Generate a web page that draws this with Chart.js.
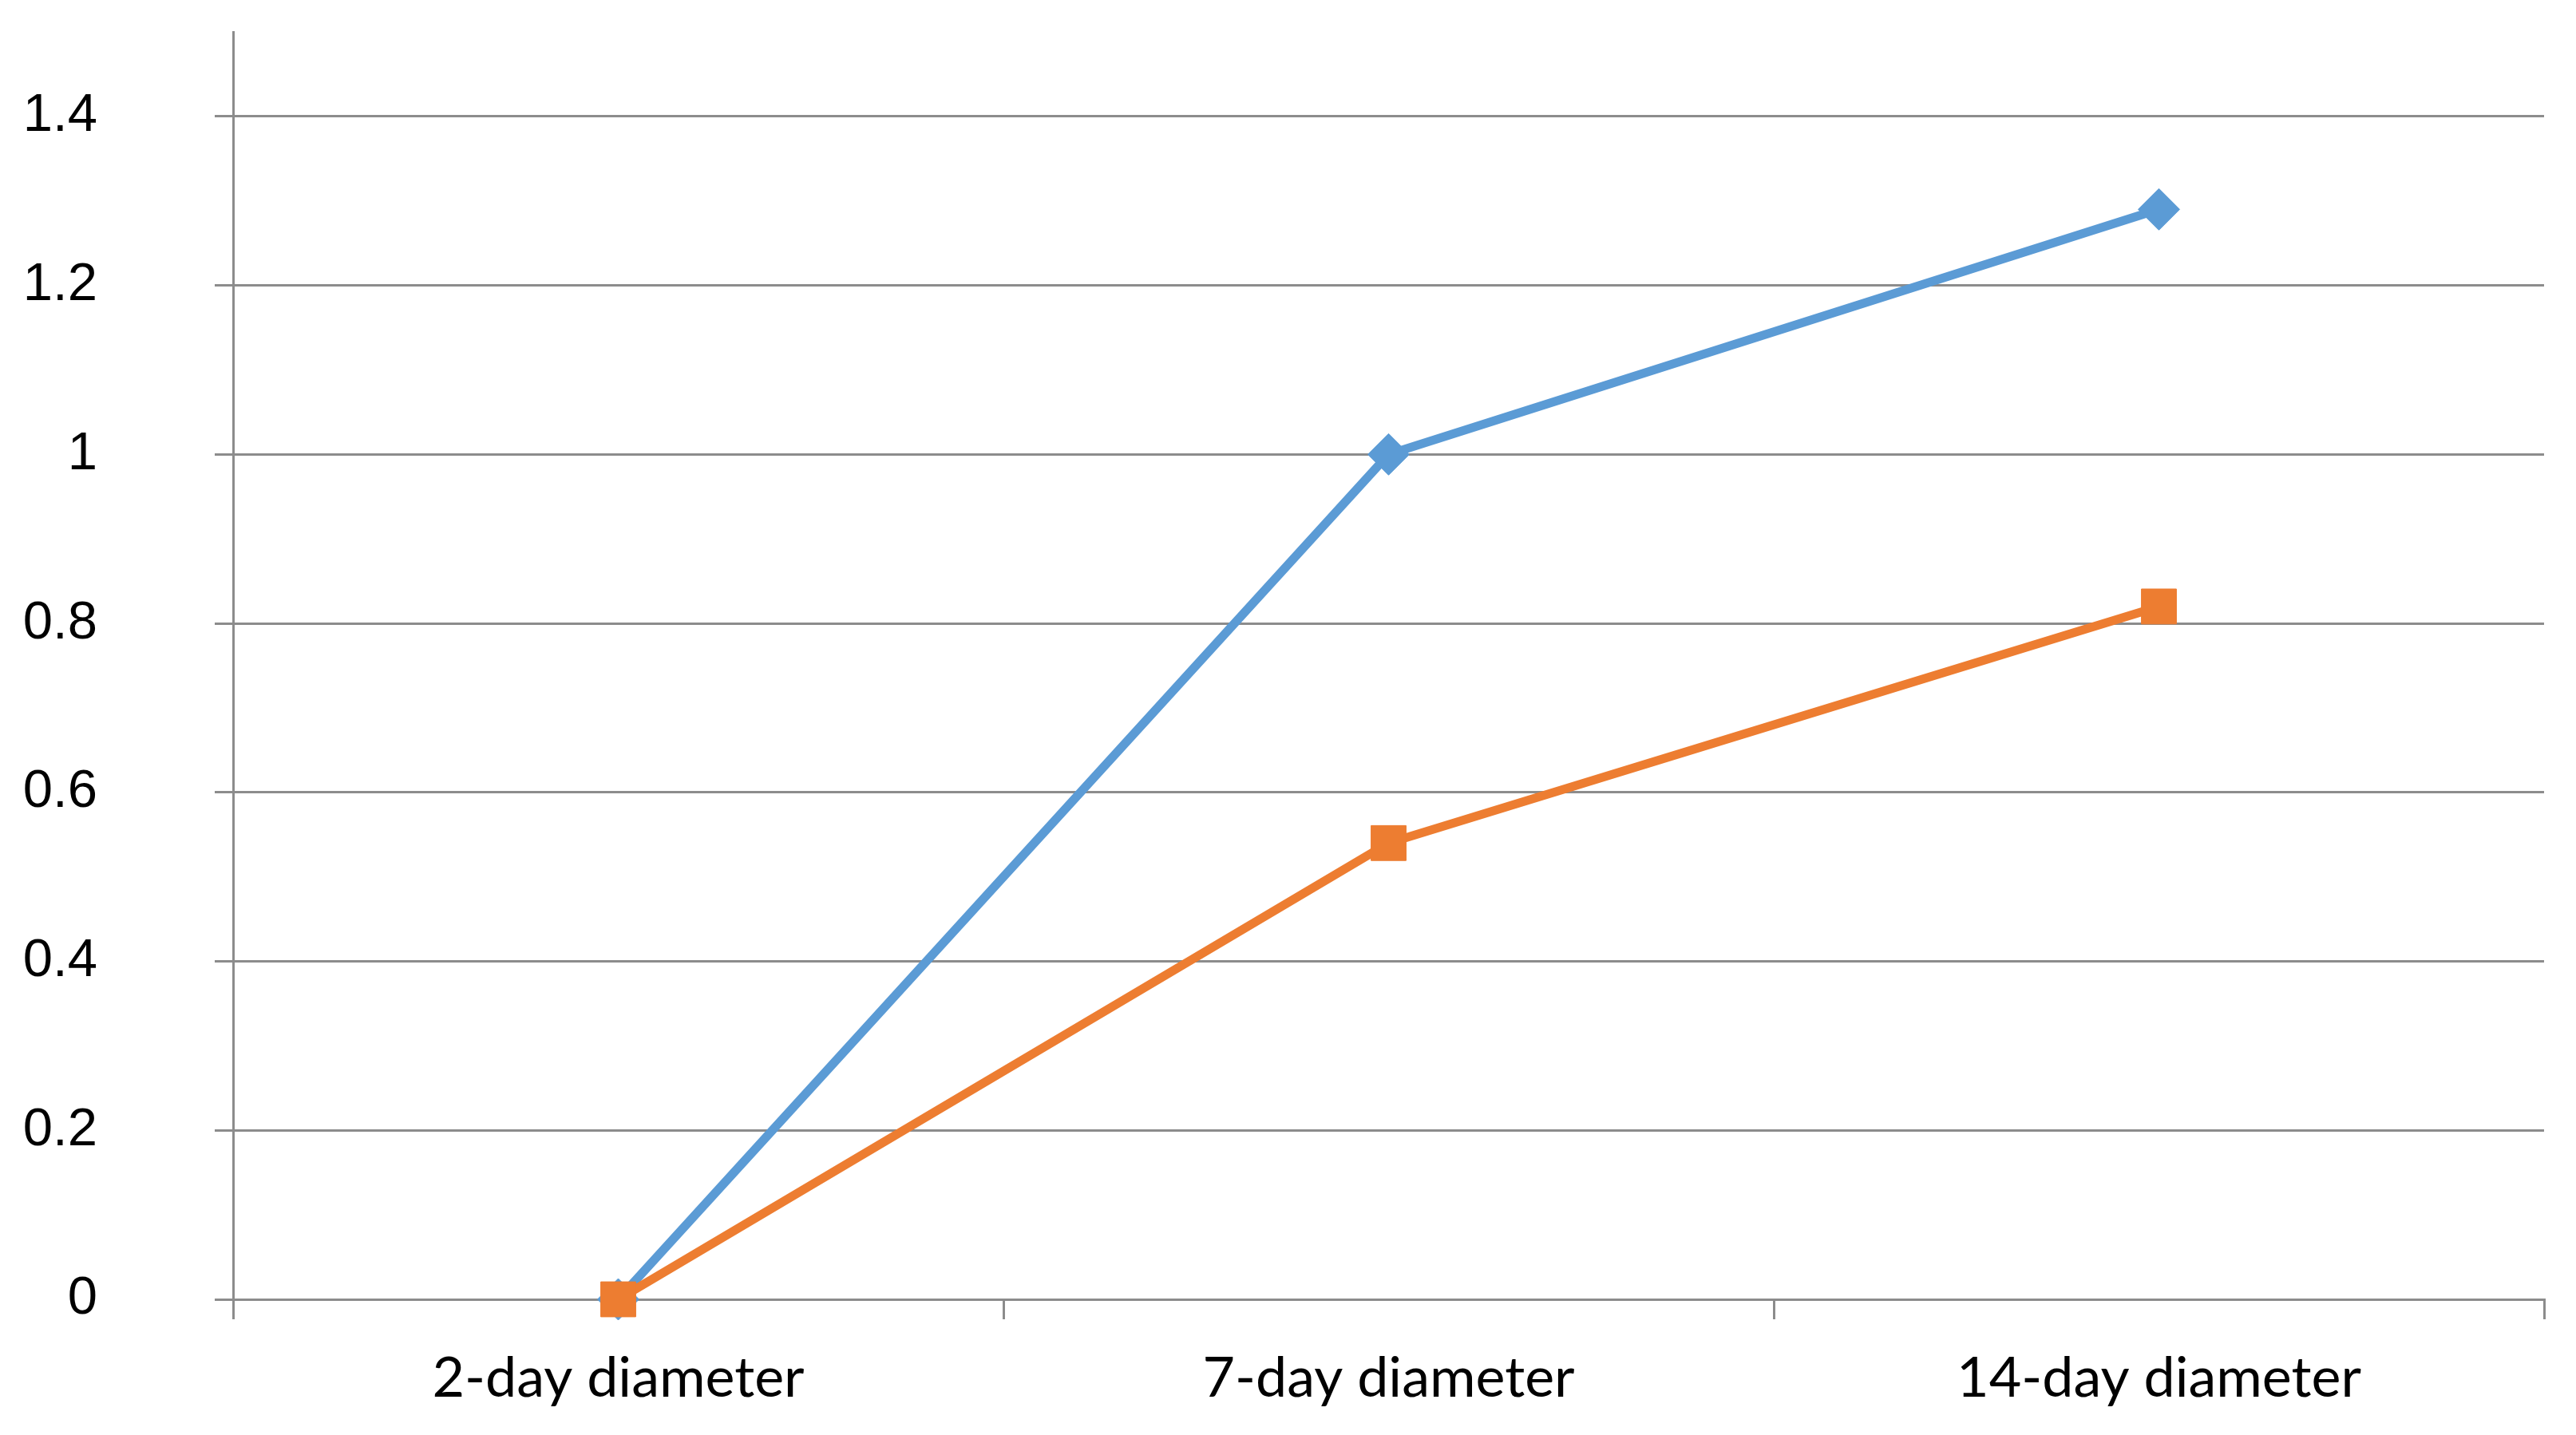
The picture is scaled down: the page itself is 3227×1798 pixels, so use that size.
<!DOCTYPE html>
<html>
<head>
<meta charset="utf-8">
<title>Diameter chart</title>
<script src="https://cdn.jsdelivr.net/npm/chart.js@4/dist/chart.umd.min.js"></script>
<style>
  html, body { margin: 0; padding: 0; background: #fff; }
  #wrap { width: 3227px; height: 1798px; position: relative; }
</style>
</head>
<body>
<div id="wrap"><canvas id="lineChart"></canvas></div>
<script>
// data
const categories = ["2-day diameter", "7-day diameter", "14-day diameter"];
const seriesBlue = [0, 1.0, 1.29];
const seriesOrange = [0, 0.54, 0.82];
const yTicks = [0, 0.2, 0.4, 0.6, 0.8, 1, 1.2, 1.4];
const yMax = 1.5;

const axisGrey = "#8c8c8c";

const chart = new Chart(document.getElementById("lineChart"), {
    type: "line",
    data: {
        labels: categories,
        datasets: [
            {
                label: "Series 1",
                data: seriesBlue,
                borderColor: "#5b9bd5",
                backgroundColor: "#5b9bd5",
                borderWidth: 11,
                pointStyle: "rectRot",
                pointRadius: 26,
                pointBorderWidth: 1,
                tension: 0,
                clip: false,
                order: 1,
            },
            {
                label: "Series 2",
                data: seriesOrange,
                borderColor: "#ed7d31",
                backgroundColor: "#ed7d31",
                borderWidth: 11,
                pointStyle: "rect",
                pointRadius: 31,
                pointBorderWidth: 1,
                tension: 0,
                clip: false,
                order: 0,
            },
        ],
    },
    options: {
        responsive: true,
        maintainAspectRatio: false,
        animation: false,
        devicePixelRatio: 1,
        layout: {
            padding: { left: 0, top: 40, right: 40, bottom: 0 },
        },
        plugins: {
            legend: { display: false },
            tooltip: { enabled: false },
        },
        scales: {
            x: {
                offset: true,
                grid: {
                    offset: true,
                    drawOnChartArea: false,
                    drawTicks: true,
                    tickLength: 25,
                    color: axisGrey,
                    lineWidth: 3,
                },
                border: { color: axisGrey, width: 3 },
                ticks: {
                    color: "#000",
                    padding: 32,
                    maxRotation: 0,
                    font: { family: "Lato", size: 70 },
                },
                afterFit: (s) => {
                    s.height = 170;
                    s.paddingLeft = 0;
                    s.paddingRight = 0;
                },
            },
            y: {
                min: 0,
                max: yMax,
                afterBuildTicks: (s) => { s.ticks = yTicks.map((v) => ({ value: v })); },
                grid: {
                    color: axisGrey,
                    lineWidth: 3,
                    tickLength: 23,
                },
                border: { color: axisGrey, width: 3 },
                ticks: {
                    color: "#000",
                    padding: 147,
                    font: { family: "Liberation Sans", size: 67 },
                    callback: (v) => String(v),
                },
                afterFit: (s) => {
                    s.width = 292;
                    s.paddingTop = 0;
                    s.paddingBottom = 0;
                },
            },
        },
    },
});
</script>
</body>
</html>
